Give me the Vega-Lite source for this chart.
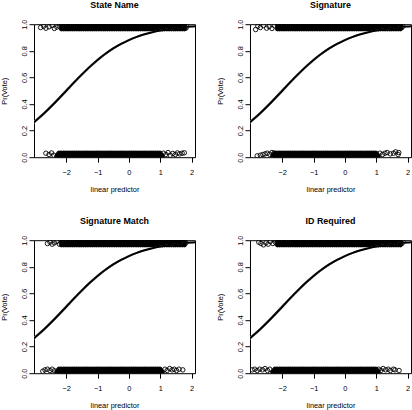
{
"$schema": "https://vega.github.io/schema/vega-lite/v6.json",
"padding": {"left": 0, "top": 0.2, "right": 0, "bottom": 0},
"background": "white",
"config": {
  "font": "Liberation Sans",
  "view": {"stroke": "black", "strokeWidth": 1},
  "axis": {"domain": false, "grid": false, "tickColor": "black", "tickSize": 5, "tickWidth": 1, "labelFont": "Liberation Sans", "labelFontSize": 7.4, "labelColor": "black", "labelOverlap": false, "labelBound": false, "titleFont": "Liberation Sans", "titleFontSize": 7.4, "titleFontWeight": "normal", "titleColor": "black"},
  "axisX": {"labelBaseline": "alphabetic", "labelPadding": 12, "labelFlush": false, "titleBaseline": "alphabetic", "titleY": 34.8},
  "axisY": {"labelAngle": -90, "labelAlign": "center", "labelBaseline": "alphabetic", "labelPadding": 2.6, "labelFlush": false, "titleAngle": -90, "titleBaseline": "alphabetic", "titleX": -27.5, "titleY": 66.5, "titleAlign": "center"},
  "title": {"font": "Liberation Sans", "fontSize": 8.9, "fontWeight": "bold", "color": "black", "baseline": "alphabetic", "offset": 9.35, "frame": "group", "anchor": "middle"}
},
"datasets": {
  "curveMid": [
    {"x": -3.03, "y": 0.2631}, {"x": -2.75, "y": 0.3208}, {"x": -2.5, "y": 0.3775}, {"x": -2.25, "y": 0.4378}, {"x": -2.0, "y": 0.5}, {"x": -1.75, "y": 0.5622}, {"x": -1.5, "y": 0.6225}, {"x": -1.25, "y": 0.6792}, {"x": -1.0, "y": 0.7311}, {"x": -0.75, "y": 0.7773}, {"x": -0.5, "y": 0.8176}, {"x": -0.25, "y": 0.8520}, {"x": 0.0, "y": 0.8808}, {"x": 0.25, "y": 0.9047}, {"x": 0.5, "y": 0.9241}, {"x": 0.75, "y": 0.9399}, {"x": 1.0, "y": 0.9526}, {"x": 1.25, "y": 0.9627}, {"x": 1.5, "y": 0.9707}, {"x": 1.75, "y": 0.9770}, {"x": 2.0, "y": 0.9820}, {"x": 2.11, "y": 0.9839}
  ],
  "curveLo": [
    {"x": -3.03, "y": 0.2544}, {"x": -2.75, "y": 0.3110}, {"x": -2.5, "y": 0.3669}, {"x": -2.25, "y": 0.4267}, {"x": -2.0, "y": 0.4887}, {"x": -1.75, "y": 0.5511}, {"x": -1.5, "y": 0.6119}, {"x": -1.25, "y": 0.6694}, {"x": -1.0, "y": 0.7223}, {"x": -0.75, "y": 0.7695}, {"x": -0.5, "y": 0.8109}, {"x": -0.25, "y": 0.8463}, {"x": 0.0, "y": 0.8761}, {"x": 0.25, "y": 0.9008}, {"x": 0.5, "y": 0.9209}, {"x": 0.75, "y": 0.9374}, {"x": 1.0, "y": 0.9506}, {"x": 1.25, "y": 0.9611}, {"x": 1.5, "y": 0.9694}, {"x": 1.75, "y": 0.9760}, {"x": 2.0, "y": 0.9812}, {"x": 2.11, "y": 0.9832}
  ],
  "curveHi": [
    {"x": -3.03, "y": 0.2718}, {"x": -2.75, "y": 0.3306}, {"x": -2.5, "y": 0.3881}, {"x": -2.25, "y": 0.4489}, {"x": -2.0, "y": 0.5113}, {"x": -1.75, "y": 0.5733}, {"x": -1.5, "y": 0.6331}, {"x": -1.25, "y": 0.6890}, {"x": -1.0, "y": 0.7399}, {"x": -0.75, "y": 0.7851}, {"x": -0.5, "y": 0.8243}, {"x": -0.25, "y": 0.8577}, {"x": 0.0, "y": 0.8855}, {"x": 0.25, "y": 0.9086}, {"x": 0.5, "y": 0.9273}, {"x": 0.75, "y": 0.9424}, {"x": 1.0, "y": 0.9546}, {"x": 1.25, "y": 0.9643}, {"x": 1.5, "y": 0.9720}, {"x": 1.75, "y": 0.9780}, {"x": 2.0, "y": 0.9828}, {"x": 2.11, "y": 0.9846}
  ],
  "coreTop": [
    {"x":-2.15,"y":0.966},{"x":-2.08,"y":0.966},{"x":-2.01,"y":0.966},{"x":-1.94,"y":0.966},{"x":-1.87,"y":0.966},{"x":-1.80,"y":0.966},{"x":-1.73,"y":0.966},{"x":-1.66,"y":0.966},{"x":-1.59,"y":0.966},{"x":-1.52,"y":0.966},{"x":-1.45,"y":0.966},{"x":-1.38,"y":0.966},{"x":-1.31,"y":0.966},{"x":-1.24,"y":0.966},{"x":-1.17,"y":0.966},{"x":-1.10,"y":0.966},{"x":-1.03,"y":0.966},{"x":-0.96,"y":0.966},{"x":-0.89,"y":0.966},{"x":-0.82,"y":0.966},{"x":-0.75,"y":0.966},{"x":-0.68,"y":0.966},{"x":-0.61,"y":0.966},{"x":-0.54,"y":0.966},{"x":-0.47,"y":0.966},{"x":-0.40,"y":0.966},{"x":-0.33,"y":0.966},{"x":-0.26,"y":0.966},{"x":-0.19,"y":0.966},{"x":-0.12,"y":0.966},{"x":-0.05,"y":0.966},{"x":0.02,"y":0.966},{"x":0.09,"y":0.966},{"x":0.16,"y":0.966},{"x":0.23,"y":0.966},{"x":0.30,"y":0.966},{"x":0.37,"y":0.966},{"x":0.44,"y":0.966},{"x":0.51,"y":0.966},{"x":0.58,"y":0.966},{"x":0.65,"y":0.966},{"x":0.72,"y":0.966},{"x":0.79,"y":0.966},{"x":0.86,"y":0.966},{"x":0.93,"y":0.966},{"x":1.00,"y":0.966},{"x":1.07,"y":0.966},{"x":1.14,"y":0.966},{"x":1.21,"y":0.966},{"x":1.28,"y":0.966},{"x":1.35,"y":0.966},{"x":1.42,"y":0.966},{"x":1.49,"y":0.966},{"x":1.56,"y":0.966},{"x":1.63,"y":0.966},{"x":1.70,"y":0.966},{"x":1.77,"y":0.966},
    {"x":-2.115,"y":0.978},{"x":-2.045,"y":0.978},{"x":-1.975,"y":0.978},{"x":-1.905,"y":0.978},{"x":-1.835,"y":0.978},{"x":-1.765,"y":0.978},{"x":-1.695,"y":0.978},{"x":-1.625,"y":0.978},{"x":-1.555,"y":0.978},{"x":-1.485,"y":0.978},{"x":-1.415,"y":0.978},{"x":-1.345,"y":0.978},{"x":-1.275,"y":0.978},{"x":-1.205,"y":0.978},{"x":-1.135,"y":0.978},{"x":-1.065,"y":0.978},{"x":-0.995,"y":0.978},{"x":-0.925,"y":0.978},{"x":-0.855,"y":0.978},{"x":-0.785,"y":0.978},{"x":-0.715,"y":0.978},{"x":-0.645,"y":0.978},{"x":-0.575,"y":0.978},{"x":-0.505,"y":0.978},{"x":-0.435,"y":0.978},{"x":-0.365,"y":0.978},{"x":-0.295,"y":0.978},{"x":-0.225,"y":0.978},{"x":-0.155,"y":0.978},{"x":-0.085,"y":0.978},{"x":-0.015,"y":0.978},{"x":0.055,"y":0.978},{"x":0.125,"y":0.978},{"x":0.195,"y":0.978},{"x":0.265,"y":0.978},{"x":0.335,"y":0.978},{"x":0.405,"y":0.978},{"x":0.475,"y":0.978},{"x":0.545,"y":0.978},{"x":0.615,"y":0.978},{"x":0.685,"y":0.978},{"x":0.755,"y":0.978},{"x":0.825,"y":0.978},{"x":0.895,"y":0.978},{"x":0.965,"y":0.978},{"x":1.035,"y":0.978},{"x":1.105,"y":0.978},{"x":1.175,"y":0.978},{"x":1.245,"y":0.978},{"x":1.315,"y":0.978},{"x":1.385,"y":0.978},{"x":1.455,"y":0.978},{"x":1.525,"y":0.978},{"x":1.595,"y":0.978},{"x":1.665,"y":0.978},{"x":1.735,"y":0.978},
    {"x":-2.15,"y":0.99},{"x":-2.08,"y":0.99},{"x":-2.01,"y":0.99},{"x":-1.94,"y":0.99},{"x":-1.87,"y":0.99},{"x":-1.80,"y":0.99},{"x":-1.73,"y":0.99},{"x":-1.66,"y":0.99},{"x":-1.59,"y":0.99},{"x":-1.52,"y":0.99},{"x":-1.45,"y":0.99},{"x":-1.38,"y":0.99},{"x":-1.31,"y":0.99},{"x":-1.24,"y":0.99},{"x":-1.17,"y":0.99},{"x":-1.10,"y":0.99},{"x":-1.03,"y":0.99},{"x":-0.96,"y":0.99},{"x":-0.89,"y":0.99},{"x":-0.82,"y":0.99},{"x":-0.75,"y":0.99},{"x":-0.68,"y":0.99},{"x":-0.61,"y":0.99},{"x":-0.54,"y":0.99},{"x":-0.47,"y":0.99},{"x":-0.40,"y":0.99},{"x":-0.33,"y":0.99},{"x":-0.26,"y":0.99},{"x":-0.19,"y":0.99},{"x":-0.12,"y":0.99},{"x":-0.05,"y":0.99},{"x":0.02,"y":0.99},{"x":0.09,"y":0.99},{"x":0.16,"y":0.99},{"x":0.23,"y":0.99},{"x":0.30,"y":0.99},{"x":0.37,"y":0.99},{"x":0.44,"y":0.99},{"x":0.51,"y":0.99},{"x":0.58,"y":0.99},{"x":0.65,"y":0.99},{"x":0.72,"y":0.99},{"x":0.79,"y":0.99},{"x":0.86,"y":0.99},{"x":0.93,"y":0.99},{"x":1.00,"y":0.99},{"x":1.07,"y":0.99},{"x":1.14,"y":0.99},{"x":1.21,"y":0.99},{"x":1.28,"y":0.99},{"x":1.35,"y":0.99},{"x":1.42,"y":0.99},{"x":1.49,"y":0.99},{"x":1.56,"y":0.99},{"x":1.63,"y":0.99},{"x":1.70,"y":0.99},{"x":1.77,"y":0.99}
  ],
  "coreBot": [
    {"x":-2.30,"y":0.008},{"x":-2.23,"y":0.008},{"x":-2.16,"y":0.008},{"x":-2.09,"y":0.008},{"x":-2.02,"y":0.008},{"x":-1.95,"y":0.008},{"x":-1.88,"y":0.008},{"x":-1.81,"y":0.008},{"x":-1.74,"y":0.008},{"x":-1.67,"y":0.008},{"x":-1.60,"y":0.008},{"x":-1.53,"y":0.008},{"x":-1.46,"y":0.008},{"x":-1.39,"y":0.008},{"x":-1.32,"y":0.008},{"x":-1.25,"y":0.008},{"x":-1.18,"y":0.008},{"x":-1.11,"y":0.008},{"x":-1.04,"y":0.008},{"x":-0.97,"y":0.008},{"x":-0.90,"y":0.008},{"x":-0.83,"y":0.008},{"x":-0.76,"y":0.008},{"x":-0.69,"y":0.008},{"x":-0.62,"y":0.008},{"x":-0.55,"y":0.008},{"x":-0.48,"y":0.008},{"x":-0.41,"y":0.008},{"x":-0.34,"y":0.008},{"x":-0.27,"y":0.008},{"x":-0.20,"y":0.008},{"x":-0.13,"y":0.008},{"x":-0.06,"y":0.008},{"x":0.01,"y":0.008},{"x":0.08,"y":0.008},{"x":0.15,"y":0.008},{"x":0.22,"y":0.008},{"x":0.29,"y":0.008},{"x":0.36,"y":0.008},{"x":0.43,"y":0.008},{"x":0.50,"y":0.008},{"x":0.57,"y":0.008},{"x":0.64,"y":0.008},{"x":0.71,"y":0.008},{"x":0.78,"y":0.008},{"x":0.85,"y":0.008},{"x":0.92,"y":0.008},{"x":0.99,"y":0.008},{"x":1.06,"y":0.008},
    {"x":-2.265,"y":0.019},{"x":-2.195,"y":0.019},{"x":-2.125,"y":0.019},{"x":-2.055,"y":0.019},{"x":-1.985,"y":0.019},{"x":-1.915,"y":0.019},{"x":-1.845,"y":0.019},{"x":-1.775,"y":0.019},{"x":-1.705,"y":0.019},{"x":-1.635,"y":0.019},{"x":-1.565,"y":0.019},{"x":-1.495,"y":0.019},{"x":-1.425,"y":0.019},{"x":-1.355,"y":0.019},{"x":-1.285,"y":0.019},{"x":-1.215,"y":0.019},{"x":-1.145,"y":0.019},{"x":-1.075,"y":0.019},{"x":-1.005,"y":0.019},{"x":-0.935,"y":0.019},{"x":-0.865,"y":0.019},{"x":-0.795,"y":0.019},{"x":-0.725,"y":0.019},{"x":-0.655,"y":0.019},{"x":-0.585,"y":0.019},{"x":-0.515,"y":0.019},{"x":-0.445,"y":0.019},{"x":-0.375,"y":0.019},{"x":-0.305,"y":0.019},{"x":-0.235,"y":0.019},{"x":-0.165,"y":0.019},{"x":-0.095,"y":0.019},{"x":-0.025,"y":0.019},{"x":0.045,"y":0.019},{"x":0.115,"y":0.019},{"x":0.185,"y":0.019},{"x":0.255,"y":0.019},{"x":0.325,"y":0.019},{"x":0.395,"y":0.019},{"x":0.465,"y":0.019},{"x":0.535,"y":0.019},{"x":0.605,"y":0.019},{"x":0.675,"y":0.019},{"x":0.745,"y":0.019},{"x":0.815,"y":0.019},{"x":0.885,"y":0.019},{"x":0.955,"y":0.019},{"x":1.025,"y":0.019},
    {"x":-2.23,"y":0.03},{"x":-2.16,"y":0.03},{"x":-2.09,"y":0.03},{"x":-2.02,"y":0.03},{"x":-1.95,"y":0.03},{"x":-1.88,"y":0.03},{"x":-1.81,"y":0.03},{"x":-1.74,"y":0.03},{"x":-1.67,"y":0.03},{"x":-1.60,"y":0.03},{"x":-1.53,"y":0.03},{"x":-1.46,"y":0.03},{"x":-1.39,"y":0.03},{"x":-1.32,"y":0.03},{"x":-1.25,"y":0.03},{"x":-1.18,"y":0.03},{"x":-1.11,"y":0.03},{"x":-1.04,"y":0.03},{"x":-0.97,"y":0.03},{"x":-0.90,"y":0.03},{"x":-0.83,"y":0.03},{"x":-0.76,"y":0.03},{"x":-0.69,"y":0.03},{"x":-0.62,"y":0.03},{"x":-0.55,"y":0.03},{"x":-0.48,"y":0.03},{"x":-0.41,"y":0.03},{"x":-0.34,"y":0.03},{"x":-0.27,"y":0.03},{"x":-0.20,"y":0.03},{"x":-0.13,"y":0.03},{"x":-0.06,"y":0.03},{"x":0.01,"y":0.03},{"x":0.08,"y":0.03},{"x":0.15,"y":0.03},{"x":0.22,"y":0.03},{"x":0.29,"y":0.03},{"x":0.36,"y":0.03},{"x":0.43,"y":0.03},{"x":0.50,"y":0.03},{"x":0.57,"y":0.03},{"x":0.64,"y":0.03},{"x":0.71,"y":0.03},{"x":0.78,"y":0.03},{"x":0.85,"y":0.03},{"x":0.92,"y":0.03},{"x":0.99,"y":0.03}
  ],
  "edges": [
    {"p":1,"x":-2.82,"y":0.975},{"p":1,"x":-2.72,"y":0.985},{"p":1,"x":-2.65,"y":0.97},{"p":1,"x":-2.55,"y":0.98},{"p":1,"x":-2.45,"y":0.99},{"p":1,"x":-2.38,"y":0.968},{"p":1,"x":-2.3,"y":0.978},{"p":1,"x":-2.22,"y":0.985},
    {"p":1,"x":1.82,"y":0.97},{"p":1,"x":1.85,"y":0.985},
    {"p":1,"x":-2.65,"y":0.03},{"p":1,"x":-2.55,"y":0.02},{"p":1,"x":-2.47,"y":0.032},{"p":1,"x":-2.4,"y":0.015},
    {"p":1,"x":1.1,"y":0.03},{"p":1,"x":1.18,"y":0.02},{"p":1,"x":1.25,"y":0.035},{"p":1,"x":1.32,"y":0.015},{"p":1,"x":1.4,"y":0.028},{"p":1,"x":1.48,"y":0.02},{"p":1,"x":1.55,"y":0.032},{"p":1,"x":1.62,"y":0.025},{"p":1,"x":1.7,"y":0.03},{"p":1,"x":1.77,"y":0.033},
    {"p":2,"x":-2.85,"y":0.96},{"p":2,"x":-2.78,"y":0.985},{"p":2,"x":-2.7,"y":0.975},{"p":2,"x":-2.6,"y":0.99},{"p":2,"x":-2.5,"y":0.97},{"p":2,"x":-2.42,"y":0.982},{"p":2,"x":-2.33,"y":0.968},{"p":2,"x":-2.25,"y":0.988},
    {"p":2,"x":1.82,"y":0.975},{"p":2,"x":1.85,"y":0.985},
    {"p":2,"x":-2.8,"y":0.01},{"p":2,"x":-2.7,"y":0.015},{"p":2,"x":-2.62,"y":0.02},{"p":2,"x":-2.55,"y":0.025},{"p":2,"x":-2.48,"y":0.03},{"p":2,"x":-2.4,"y":0.022},{"p":2,"x":-2.33,"y":0.035},{"p":2,"x":-2.26,"y":0.03},
    {"p":2,"x":1.12,"y":0.03},{"p":2,"x":1.2,"y":0.02},{"p":2,"x":1.28,"y":0.03},{"p":2,"x":1.35,"y":0.035},{"p":2,"x":1.45,"y":0.025},{"p":2,"x":1.55,"y":0.03},{"p":2,"x":1.62,"y":0.04},{"p":2,"x":1.72,"y":0.035},{"p":2,"x":1.7,"y":0.02},
    {"p":3,"x":-2.6,"y":0.975},{"p":3,"x":-2.52,"y":0.985},{"p":3,"x":-2.45,"y":0.97},{"p":3,"x":-2.38,"y":0.98},{"p":3,"x":-2.3,"y":0.99},{"p":3,"x":-2.22,"y":0.97},
    {"p":3,"x":1.82,"y":0.98},
    {"p":3,"x":-2.75,"y":0.015},{"p":3,"x":-2.68,"y":0.025},{"p":3,"x":-2.6,"y":0.03},{"p":3,"x":-2.52,"y":0.02},{"p":3,"x":-2.45,"y":0.03},{"p":3,"x":-2.38,"y":0.018},
    {"p":3,"x":1.15,"y":0.03},{"p":3,"x":1.22,"y":0.02},{"p":3,"x":1.3,"y":0.035},{"p":3,"x":1.38,"y":0.025},{"p":3,"x":1.45,"y":0.03},{"p":3,"x":1.52,"y":0.02},{"p":3,"x":1.6,"y":0.03},{"p":3,"x":1.72,"y":0.025},
    {"p":4,"x":-2.75,"y":0.985},{"p":4,"x":-2.68,"y":0.975},{"p":4,"x":-2.6,"y":0.965},{"p":4,"x":-2.52,"y":0.98},{"p":4,"x":-2.45,"y":0.97},{"p":4,"x":-2.38,"y":0.99},{"p":4,"x":-2.3,"y":0.975},{"p":4,"x":-2.22,"y":0.985},
    {"p":4,"x":1.82,"y":0.975},{"p":4,"x":1.86,"y":0.988},
    {"p":4,"x":-2.96,"y":0.025},{"p":4,"x":-2.88,"y":0.03},{"p":4,"x":-2.8,"y":0.02},{"p":4,"x":-2.72,"y":0.03},{"p":4,"x":-2.63,"y":0.025},{"p":4,"x":-2.55,"y":0.035},{"p":4,"x":-2.47,"y":0.02},{"p":4,"x":-2.4,"y":0.03},
    {"p":4,"x":1.08,"y":0.03},{"p":4,"x":1.15,"y":0.02},{"p":4,"x":1.22,"y":0.035},{"p":4,"x":1.3,"y":0.025},{"p":4,"x":1.38,"y":0.03},{"p":4,"x":1.45,"y":0.02},{"p":4,"x":1.55,"y":0.03},{"p":4,"x":1.6,"y":0.025},{"p":4,"x":1.73,"y":0.02}
  ]
},
"columns": 2,
"spacing": {"row": 83, "column": 55},
"bounds": "flush",
"concat": [
  {"title": "State Name", "width": 161, "height": 133,
   "encoding": {"x": {"field": "x", "type": "quantitative", "title": "linear predictor", "scale": {"domain": [-3.03, 2.11], "nice": false, "zero": false}, "axis": {"values": [-2, -1, 0, 1, 2], "labelOverlap": false}},
                "y": {"field": "y", "type": "quantitative", "title": "Pr(Vote)", "scale": {"domain": [0, 1], "nice": false, "zero": false}, "axis": {"values": [0, 0.2, 0.4, 0.6, 0.8, 1], "format": ".1f", "labelOverlap": false}}},
   "layer": [
    {"data": {"name": "coreTop"}, "mark": {"type": "point", "shape": "circle", "filled": true, "fill": "black", "stroke": "black", "strokeWidth": 0.9, "size": 20, "opacity": 1, "clip": true}},
    {"data": {"name": "coreBot"}, "mark": {"type": "point", "shape": "circle", "filled": true, "fill": "black", "stroke": "black", "strokeWidth": 0.9, "size": 20, "opacity": 1, "clip": true}},
    {"data": {"name": "edges"}, "transform": [{"filter": "datum.p == 1"}], "mark": {"type": "point", "shape": "circle", "filled": false, "stroke": "black", "strokeWidth": 0.9, "size": 20, "opacity": 1, "clip": true}},
    {"data": {"name": "curveLo"}, "mark": {"type": "line", "color": "#aaaaaa", "strokeWidth": 1, "interpolate": "monotone", "clip": true}, "encoding": {}},
    {"data": {"name": "curveHi"}, "mark": {"type": "line", "color": "#aaaaaa", "strokeWidth": 1, "interpolate": "monotone", "clip": true}, "encoding": {}},
    {"data": {"name": "curveMid"}, "mark": {"type": "line", "color": "black", "strokeWidth": 2, "interpolate": "monotone", "clip": true}, "encoding": {}}
   ]},
  {"title": "Signature", "width": 161, "height": 133,
   "encoding": {"x": {"field": "x", "type": "quantitative", "title": "linear predictor", "scale": {"domain": [-3.03, 2.11], "nice": false, "zero": false}, "axis": {"values": [-2, -1, 0, 1, 2], "labelOverlap": false}},
                "y": {"field": "y", "type": "quantitative", "title": "Pr(Vote)", "scale": {"domain": [0, 1], "nice": false, "zero": false}, "axis": {"values": [0, 0.2, 0.4, 0.6, 0.8, 1], "format": ".1f", "labelOverlap": false}}},
   "layer": [
    {"data": {"name": "coreTop"}, "mark": {"type": "point", "shape": "circle", "filled": true, "fill": "black", "stroke": "black", "strokeWidth": 0.9, "size": 20, "opacity": 1, "clip": true}},
    {"data": {"name": "coreBot"}, "mark": {"type": "point", "shape": "circle", "filled": true, "fill": "black", "stroke": "black", "strokeWidth": 0.9, "size": 20, "opacity": 1, "clip": true}},
    {"data": {"name": "edges"}, "transform": [{"filter": "datum.p == 2"}], "mark": {"type": "point", "shape": "circle", "filled": false, "stroke": "black", "strokeWidth": 0.9, "size": 20, "opacity": 1, "clip": true}},
    {"data": {"name": "curveLo"}, "mark": {"type": "line", "color": "#aaaaaa", "strokeWidth": 1, "interpolate": "monotone", "clip": true}, "encoding": {}},
    {"data": {"name": "curveHi"}, "mark": {"type": "line", "color": "#aaaaaa", "strokeWidth": 1, "interpolate": "monotone", "clip": true}, "encoding": {}},
    {"data": {"name": "curveMid"}, "mark": {"type": "line", "color": "black", "strokeWidth": 2, "interpolate": "monotone", "clip": true}, "encoding": {}}
   ]},
  {"title": "Signature Match", "width": 161, "height": 133,
   "encoding": {"x": {"field": "x", "type": "quantitative", "title": "linear predictor", "scale": {"domain": [-3.03, 2.11], "nice": false, "zero": false}, "axis": {"values": [-2, -1, 0, 1, 2], "labelOverlap": false}},
                "y": {"field": "y", "type": "quantitative", "title": "Pr(Vote)", "scale": {"domain": [0, 1], "nice": false, "zero": false}, "axis": {"values": [0, 0.2, 0.4, 0.6, 0.8, 1], "format": ".1f", "labelOverlap": false}}},
   "layer": [
    {"data": {"name": "coreTop"}, "mark": {"type": "point", "shape": "circle", "filled": true, "fill": "black", "stroke": "black", "strokeWidth": 0.9, "size": 20, "opacity": 1, "clip": true}},
    {"data": {"name": "coreBot"}, "mark": {"type": "point", "shape": "circle", "filled": true, "fill": "black", "stroke": "black", "strokeWidth": 0.9, "size": 20, "opacity": 1, "clip": true}},
    {"data": {"name": "edges"}, "transform": [{"filter": "datum.p == 3"}], "mark": {"type": "point", "shape": "circle", "filled": false, "stroke": "black", "strokeWidth": 0.9, "size": 20, "opacity": 1, "clip": true}},
    {"data": {"name": "curveLo"}, "mark": {"type": "line", "color": "#aaaaaa", "strokeWidth": 1, "interpolate": "monotone", "clip": true}, "encoding": {}},
    {"data": {"name": "curveHi"}, "mark": {"type": "line", "color": "#aaaaaa", "strokeWidth": 1, "interpolate": "monotone", "clip": true}, "encoding": {}},
    {"data": {"name": "curveMid"}, "mark": {"type": "line", "color": "black", "strokeWidth": 2, "interpolate": "monotone", "clip": true}, "encoding": {}}
   ]},
  {"title": "ID Required", "width": 161, "height": 133,
   "encoding": {"x": {"field": "x", "type": "quantitative", "title": "linear predictor", "scale": {"domain": [-3.03, 2.11], "nice": false, "zero": false}, "axis": {"values": [-2, -1, 0, 1, 2], "labelOverlap": false}},
                "y": {"field": "y", "type": "quantitative", "title": "Pr(Vote)", "scale": {"domain": [0, 1], "nice": false, "zero": false}, "axis": {"values": [0, 0.2, 0.4, 0.6, 0.8, 1], "format": ".1f", "labelOverlap": false}}},
   "layer": [
    {"data": {"name": "coreTop"}, "mark": {"type": "point", "shape": "circle", "filled": true, "fill": "black", "stroke": "black", "strokeWidth": 0.9, "size": 20, "opacity": 1, "clip": true}},
    {"data": {"name": "coreBot"}, "mark": {"type": "point", "shape": "circle", "filled": true, "fill": "black", "stroke": "black", "strokeWidth": 0.9, "size": 20, "opacity": 1, "clip": true}},
    {"data": {"name": "edges"}, "transform": [{"filter": "datum.p == 4"}], "mark": {"type": "point", "shape": "circle", "filled": false, "stroke": "black", "strokeWidth": 0.9, "size": 20, "opacity": 1, "clip": true}},
    {"data": {"name": "curveLo"}, "mark": {"type": "line", "color": "#aaaaaa", "strokeWidth": 1, "interpolate": "monotone", "clip": true}, "encoding": {}},
    {"data": {"name": "curveHi"}, "mark": {"type": "line", "color": "#aaaaaa", "strokeWidth": 1, "interpolate": "monotone", "clip": true}, "encoding": {}},
    {"data": {"name": "curveMid"}, "mark": {"type": "line", "color": "black", "strokeWidth": 2, "interpolate": "monotone", "clip": true}, "encoding": {}}
   ]}
]
}
